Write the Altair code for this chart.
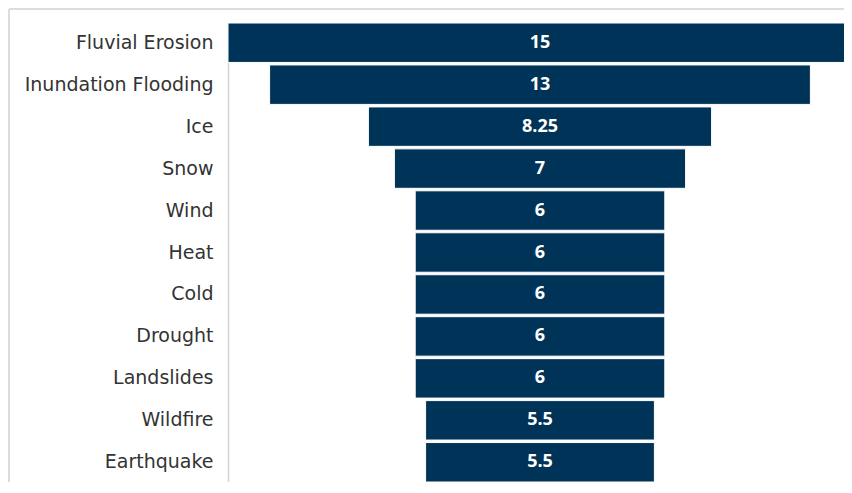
import altair as alt
import pandas as pd

categories = ["Fluvial Erosion", "Inundation Flooding", "Ice", "Snow", "Wind", "Heat",
              "Cold", "Drought", "Landslides", "Wildfire", "Earthquake"]
values = [15, 13, 8.25, 7, 6, 6, 6, 6, 6, 5.5, 5.5]
labels = ["15", "13", "8.25", "7", "6", "6", "6", "6", "6", "5.5", "5.5"]

df = pd.DataFrame({"hazard": categories, "value": values, "label": labels})

W, H = 616, 459
LABEL_FONT = "DejaVu Sans"
NUM_FONT = "Open Sans"

y = alt.Y("hazard:N", sort=categories, title=None,
          scale=alt.Scale(paddingInner=0.06, paddingOuter=0.0),
          axis=alt.Axis(ticks=False, labelFontSize=19, labelColor="#333333", labelFont=LABEL_FONT,
                        labelPadding=15, labelLimit=300, domainColor="#d4d4d4", domainWidth=1.5))
# left edge = -7.5, 41.6 px per unit; right side of the widest bar runs past the page edge
xscale = alt.Scale(domain=[-7.5, -7.5 + W / 41.6], nice=False, zero=False)

base = alt.Chart(df).transform_calculate(
    x0="-datum.value/2", x1="datum.value/2", xm="0"
)

bars = base.mark_bar(color="#003358", stroke="#ffffff", strokeWidth=1).encode(
    x=alt.X("x0:Q", scale=xscale, axis=None),
    x2="x1:Q",
    y=y,
)

text = base.mark_text(color="white", fontWeight="bold", fontSize=18, font=NUM_FONT).encode(
    x=alt.X("xm:Q", scale=xscale, axis=None),
    y=y,
    text="label:N",
)

frame_top = alt.Chart(pd.DataFrame({"a": [0]})).mark_rule(color="#dcdcdc", strokeWidth=2).encode(
    x=alt.value(-219), x2=alt.value(W + 20), y=alt.value(-14)
)
frame_left = alt.Chart(pd.DataFrame({"a": [0]})).mark_rule(color="#dcdcdc", strokeWidth=2).encode(
    x=alt.value(-219), y=alt.value(-14), y2=alt.value(H + 40)
)

chart = alt.layer(frame_top, frame_left, bars, text).properties(
    width=W, height=H,
    autosize=alt.AutoSizeParams(type="none"),
    padding={"left": 220, "top": 15, "right": 0, "bottom": 0},
).configure_view(stroke=None).configure(background="white")

chart.save("out.html", embed_options={"renderer": "svg", "actions": False})
